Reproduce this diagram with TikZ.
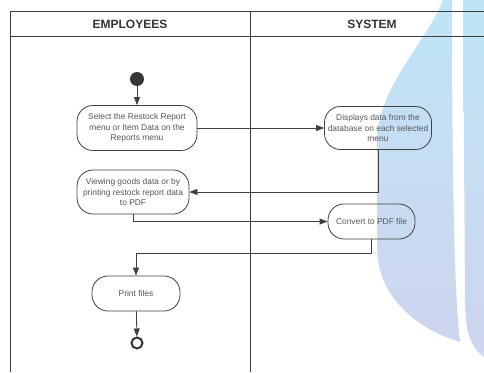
\documentclass[tikz,border=0pt]{standalone}
\usepackage{fontspec}
\setmainfont{Liberation Sans}
\usetikzlibrary{arrows.meta}
\definecolor{wmtop}{RGB}{190,229,246}
\definecolor{wmbot}{RGB}{206,213,238}
\definecolor{lanecol}{RGB}{60,60,60}
\definecolor{boxcol}{RGB}{64,64,64}
\definecolor{txtcol}{RGB}{85,85,85}
\tikzset{
  lane/.style={draw=lanecol, line width=0.8pt},
  act/.style={draw=boxcol, line width=0.8pt, rounded corners=16pt, align=center,
    inner sep=0pt, text=txtcol, font=\fontsize{8.4}{10.5}\selectfont},
  hdr/.style={font=\bfseries\fontsize{12}{14}\selectfont, text=black!80},
  flow/.style={draw=boxcol, line width=0.8pt, -{Triangle[length=8pt,width=6pt]}},
}
\begin{document}
\begin{tikzpicture}[x=1pt,y=-1pt]
\useasboundingbox (0,0) rectangle (484,372);
% watermark
\shade[top color=wmtop, bottom color=wmbot]
  (443,0) .. controls (425,45) and (379,85) .. (377,140) -- (377,250)
  .. controls (379,300) and (420,330) .. (460,342)
  .. controls (455,300) and (452,200) .. (452,0) -- cycle;
\shade[top color=wmtop, bottom color=wmbot]
  (463,0) -- (484,0) -- (484,357) .. controls (472,348) and (465,335) .. (465,300) -- cycle;
% swimlanes
\draw[lane] (484,11) -- (10,11) -- (10,372);
\draw[lane] (10,36) -- (484,36);
\draw[lane] (250,11) -- (250,372);
\node[hdr] (hemp) at (130,24) {EMPLOYEES};
\node[hdr] (hsys) at (372,24) {SYSTEM};
% nodes
\node[circle, fill=boxcol!85!black, minimum size=14pt, inner sep=0pt] (start) at (137,79) {};
\node[act, minimum width=120pt, minimum height=45pt] (a1) at (137,128)
  {Select the Restock Report\\menu or Item Data on the\\Reports menu};
\node[act, minimum width=107pt, minimum height=43pt] (a2) at (378,128)
  {Displays data from the\\database on each selected\\menu};
\node[act, minimum width=112pt, minimum height=44pt] (a3) at (133,192)
  {Viewing goods data or by\\printing restock report data\\to PDF};
\node[act, minimum width=87pt, minimum height=35pt] (a4) at (371.5,221.5)
  {Convert to PDF file};
\node[act, minimum width=88pt, minimum height=35pt] (a5) at (136,293.5)
  {Print files};
\node[circle, draw=boxcol!85!black, line width=2pt, minimum size=11pt, inner sep=0pt] (end) at (137,343) {};
% connectors
\draw[flow] (start) -- (a1);
\draw[flow] (a1) -- (a2);
\draw[flow] (a2.south) |- (a3.east);
\draw[flow] (a3.south) |- (a4.west);
\draw[flow] (a4.south) -- ++(0,14) -| (a5.north);
\draw[flow] (a5) -- (end);
\end{tikzpicture}
\end{document}
